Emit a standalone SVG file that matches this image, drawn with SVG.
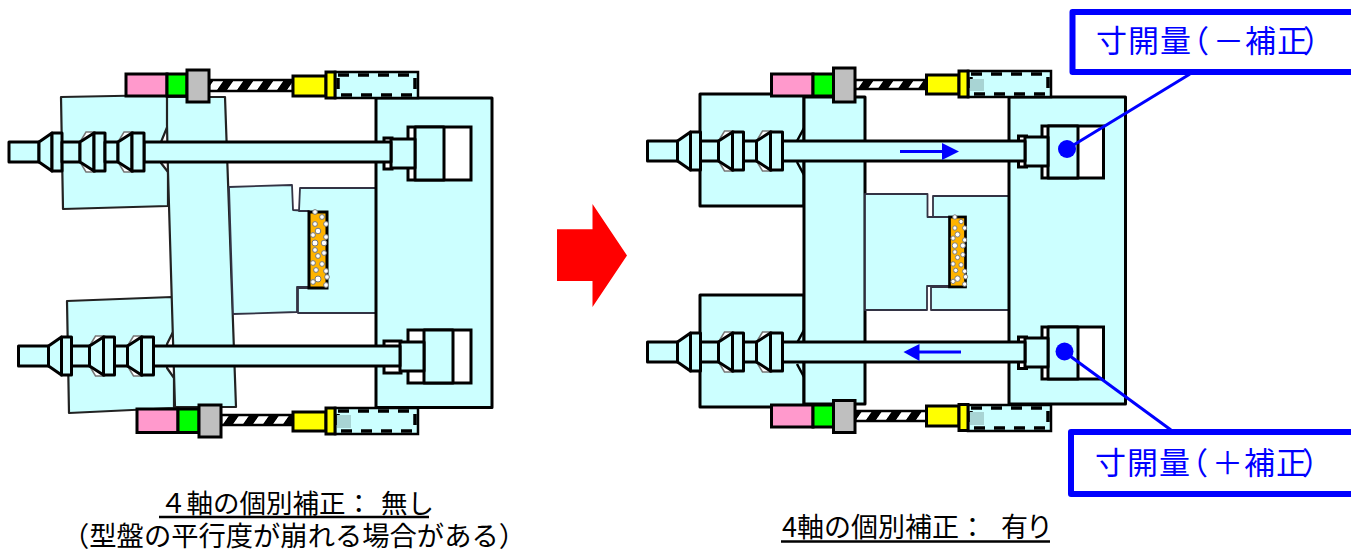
<svg xmlns="http://www.w3.org/2000/svg" xmlns:xlink="http://www.w3.org/1999/xlink" width="1351" height="554" viewBox="0 0 1351 554">
<style>
.p{fill:#ccffff;stroke:#000;stroke-width:3;stroke-linejoin:round}
.t{fill:#ccffff;stroke:#222;stroke-width:2.200;stroke-linejoin:round}
.m{fill:#ccffff;stroke:#334;stroke-width:1.800;stroke-linejoin:round}
.k{fill:none;stroke:#000;stroke-width:2.500}
.w{fill:#fff;stroke:#000;stroke-width:3}
.n{fill:#fff;stroke:#777;stroke-width:1.500}
.pk{fill:#ff99cc;stroke:#000;stroke-width:3}
.gn{fill:#00ff00;stroke:#000;stroke-width:3}
.gy{fill:#bfbfbf;stroke:#000;stroke-width:3}
.ye{fill:#ffff00;stroke:#000;stroke-width:3}
.d{fill:#fff;stroke:#777;stroke-width:1}
.b{fill:#0000ff}
.bl{fill:none;stroke:#0000ff;stroke-width:3}
.box{fill:#fff;stroke:#0000ff;stroke-width:6;stroke-linejoin:round}
.lab{font-family:"Noto Sans CJK JP","Liberation Sans",sans-serif;font-size:31px;fill:#0000ff}
.cap{font-family:"Noto Sans CJK JP","Liberation Sans",sans-serif;font-size:26.500px;fill:#000}
.u{stroke:#000;stroke-width:2.500}
</style>
<defs>
<pattern id="sc" width="20" height="20" patternUnits="userSpaceOnUse" patternTransform="skewX(-35)">
<rect width="20" height="20" fill="#fff"/>
<rect width="10" height="20" fill="#000"/>
</pattern>
<g id="stack">
<polygon class="n" points="71,-10 77,-20 86,-20 86,20 77,20 71,10"/>
<polygon class="n" points="109,-10 115,-20 124,-20 124,20 115,20 109,10"/>
<rect class="p" x="0" y="-10" width="30" height="20"/>
<polygon class="p" points="30,-10 43,-19 43,19 30,10"/>
<rect class="p" x="43" y="-19" width="10" height="38"/>
<rect class="p" x="53" y="-10" width="18" height="20"/>
<polygon class="p" points="71,-10 85,-19 85,19 71,10"/>
<rect class="p" x="85" y="-19" width="11" height="38"/>
<rect class="p" x="96" y="-10" width="13" height="20"/>
<polygon class="p" points="109,-10 123,-19 123,19 109,10"/>
<rect class="p" x="123" y="-19" width="12" height="38"/>
</g>
<g id="mat">
<rect x="0" y="0" width="18" height="76" fill="#ffb400" stroke="#000" stroke-width="3"/>
<circle class="d" cx="6" cy="0" r="2.400"/><circle class="d" cx="13" cy="5" r="2.400"/><circle class="d" cx="6" cy="12" r="2.400"/><circle class="d" cx="17" cy="12" r="2.400"/><circle class="d" cx="9" cy="19" r="2.800"/><circle class="d" cx="4" cy="23" r="2.400"/><circle class="d" cx="17" cy="25" r="2.400"/><circle class="d" cx="6" cy="31" r="3"/><circle class="d" cx="15" cy="31" r="2.800"/><circle class="d" cx="6" cy="38" r="2.400"/><circle class="d" cx="15" cy="41" r="2.400"/><circle class="d" cx="9" cy="44" r="2.400"/><circle class="d" cx="4" cy="51" r="2.400"/><circle class="d" cx="13" cy="52" r="2.400"/><circle class="d" cx="7" cy="58" r="2.400"/><circle class="d" cx="17" cy="59" r="2.400"/><circle class="d" cx="18" cy="65" r="2.400"/><circle class="d" cx="9" cy="67" r="3"/><circle class="d" cx="4" cy="70" r="2.400"/><circle class="d" cx="17" cy="73" r="2.400"/>
</g>
<g id="tail">
<rect x="0" y="0" width="83" height="26" fill="#ccffff" stroke="#000" stroke-width="2.500"/>
<rect x="3" y="3" width="77" height="20" fill="none" stroke="#000" stroke-width="3.500" stroke-dasharray="11 9"/>
</g>
</defs>

<g id="left-clamp-top"><polygon class="t" points="61,97 167,95 168,125 161,142 161,163 168,172 168,206 63,209"/></g>
<g id="left-clamp-bottom"><polygon class="t" points="67,301 172,297 174,330 167,344 167,368 174,378 174,408 69,413"/></g>
<g id="left-platen"><polygon class="t" points="167,97 225,97 236,407 175,407 173,340 168,172 167,125"/></g>
<g id="left-mold-a"><polygon class="m" points="229,187 292,185 293,210 309,211 309,287 297,287 297,312 233,314"/></g>
<g id="left-mold-b"><polygon class="m" points="300,188 376,188 376,313 298,313 298,288 309,288 309,211 299,211"/></g>
<g id="left-material"><use xlink:href="#mat" href="#mat" x="309" y="212"/></g>
<g id="left-fixed-platen"><rect class="p" x="376" y="98" width="116" height="309.500"/></g>

<g id="left-actuator-top">
<rect class="pk" x="126" y="74" width="41" height="22"/><rect class="gn" x="167" y="74" width="20" height="22"/>
<rect x="209" y="80" width="84" height="11" fill="url(#sc)" stroke="#000" stroke-width="2.500"/>
<rect class="gy" x="187" y="70" width="22" height="32"/>
<use xlink:href="#tail" href="#tail" x="335" y="72"/>
<rect class="ye" x="293" y="76" width="33" height="20"/><rect class="ye" x="326" y="72" width="9" height="26"/>
</g>
<g id="left-actuator-bottom">
<rect class="pk" x="137" y="409" width="41" height="23.500"/><rect class="gn" x="178" y="409" width="21" height="23.500"/>
<rect x="221" y="415" width="72" height="10" fill="url(#sc)" stroke="#000" stroke-width="2.500"/>
<rect class="gy" x="199" y="405" width="22" height="32"/>
<use xlink:href="#tail" href="#tail" x="335" y="408"/>
<rect x="337" y="415" width="14" height="13" fill="#a8d4d4"/>
<rect class="ye" x="293" y="412" width="33" height="19"/><rect class="ye" x="326" y="408" width="9" height="26"/>
</g>

<g id="left-tiebar-top">
<rect class="w" x="408" y="127" width="63" height="53"/><rect class="p" x="415" y="127" width="29" height="53"/>
<rect class="w" x="384" y="138" width="8" height="31"/>
<rect class="p" x="391" y="139" width="24" height="29"/>
<rect class="p" x="144" y="142" width="247" height="20"/>
<use xlink:href="#stack" href="#stack" x="9" y="152"/>
</g>
<g id="left-tiebar-bottom">
<rect class="w" x="408" y="330" width="63" height="53"/><rect class="p" x="424" y="330" width="29" height="53"/>
<rect class="w" x="384" y="341" width="17" height="32"/>
<rect class="p" x="400" y="342" width="24" height="29"/>
<rect class="p" x="153" y="346" width="247" height="20"/>
<use xlink:href="#stack" href="#stack" x="18.500" y="356"/>
</g>

<g id="right-clamp-top"><rect class="p" x="700" y="94" width="104" height="112"/><path class="k" d="M804 128 797 141M797 162 804 175"/></g>
<g id="right-clamp-bottom"><rect class="p" x="700" y="295" width="104" height="112"/><path class="k" d="M804 330 797 343M797 364 804 377"/></g>
<g id="right-platen"><rect class="p" x="804" y="97" width="61" height="307"/></g>
<g id="right-mold-a"><polygon class="m" points="865,194 927.500,194 927.500,217 950,217 950,286 927,286 927,310 865,310"/></g>
<g id="right-mold-b"><polygon class="m" points="933,196 1009,196 1009,310 931,310 931,287 950,287 950,217 933,217"/></g>
<g id="right-material"><use xlink:href="#mat" href="#mat" transform="translate(949.500 217) scale(.89 .92)"/></g>
<g id="right-fixed-platen"><rect class="p" x="1009" y="97" width="116.500" height="307"/></g>

<g id="right-actuator-top">
<rect class="pk" x="771.500" y="74" width="41.500" height="22"/><rect class="gn" x="813" y="74" width="20.500" height="22"/>
<rect x="855" y="80" width="72" height="9" fill="url(#sc)" stroke="#000" stroke-width="2.500"/>
<rect class="gy" x="833.500" y="68" width="21.500" height="34"/>
<use xlink:href="#tail" href="#tail" x="968" y="71"/>
<rect x="970" y="79" width="14" height="12" fill="#a8d4d4"/>
<rect class="ye" x="926.500" y="75" width="32.500" height="19"/><rect class="ye" x="959" y="71" width="9" height="26"/>
</g>
<g id="right-actuator-bottom">
<rect class="pk" x="771.500" y="405" width="41.500" height="22"/><rect class="gn" x="813" y="405" width="20.500" height="22"/>
<rect x="855" y="411" width="72" height="10" fill="url(#sc)" stroke="#000" stroke-width="2.500"/>
<rect class="gy" x="833.500" y="400.500" width="21.500" height="32"/>
<use xlink:href="#tail" href="#tail" x="968" y="405"/>
<rect x="970" y="412" width="14" height="13" fill="#a8d4d4"/>
<rect class="ye" x="926.500" y="406" width="32.500" height="20"/><rect class="ye" x="959" y="404.500" width="9" height="26"/>
</g>

<g id="right-tiebar-top">
<rect class="w" x="1042" y="126" width="61.500" height="52"/><rect class="p" x="1048" y="126" width="30" height="52"/>
<rect class="w" x="1018.500" y="136" width="8" height="31"/>
<rect class="p" x="1025" y="137" width="23" height="29"/>
<rect class="p" x="781" y="141" width="244" height="20"/>
<use xlink:href="#stack" href="#stack" x="647.500" y="151"/>
</g>
<g id="right-tiebar-bottom">
<rect class="w" x="1042" y="327" width="61.500" height="52"/><rect class="p" x="1048" y="327" width="30" height="52"/>
<rect class="w" x="1018.500" y="337" width="8" height="31.500"/>
<rect class="p" x="1025" y="338" width="23" height="29"/>
<rect class="p" x="781" y="342" width="244" height="20"/>
<use xlink:href="#stack" href="#stack" x="647.500" y="352"/>
</g>

<g id="direction-arrow"><polygon fill="#ff0000" points="557,229.300 592.500,229.300 592.500,204 627,255.500 592.500,307 592.500,281 557,281"/></g>

<g id="connectors">
<line class="bl" x1="1067" y1="149" x2="1190" y2="74"/>
<line class="bl" x1="1064.500" y1="352" x2="1171" y2="430"/>
<path class="bl" d="M900 151.500H945"/><polygon class="b" points="942,143 959,151.500 942,160"/>
<path class="bl" d="M961 352H917"/><polygon class="b" points="919.500,344 903.500,352 919.500,361"/>
</g>
<g id="dot-top"><ellipse class="b" cx="1067" cy="149" rx="9" ry="9"/></g>
<g id="dot-bottom"><ellipse class="b" cx="1064.500" cy="351.500" rx="9" ry="9"/></g>

<g id="label-minus"><rect class="box" x="1072.500" y="12" width="290" height="60"/>
<text class="lab" y="52" x="1096 1128 1160 1178 1213 1245 1277 1303">寸開量（－補正）</text></g>
<g id="label-plus"><rect class="box" x="1071" y="432" width="290" height="62"/>
<text class="lab" y="474" x="1095 1127 1159 1177 1212 1244 1276 1302">寸開量（＋補正）</text></g>

<g id="caption-left">
<text class="cap" y="513" x="160"><tspan>４軸の個別補正：</tspan><tspan x="381">無し</tspan></text>
<line class="u" x1="159" y1="517" x2="429" y2="517"/>
<text class="cap" y="546" x="62" style="font-size:27.300px">（型盤の平行度が崩れる場合がある）</text>
</g>
<g id="caption-right">
<text class="cap" y="537" x="782" style="font-size:27px">4軸の個別補正：<tspan x="1001">有</tspan><tspan x="1026">り</tspan></text>
<line class="u" x1="781" y1="541.500" x2="1050" y2="541.500"/>
</g>
</svg>
